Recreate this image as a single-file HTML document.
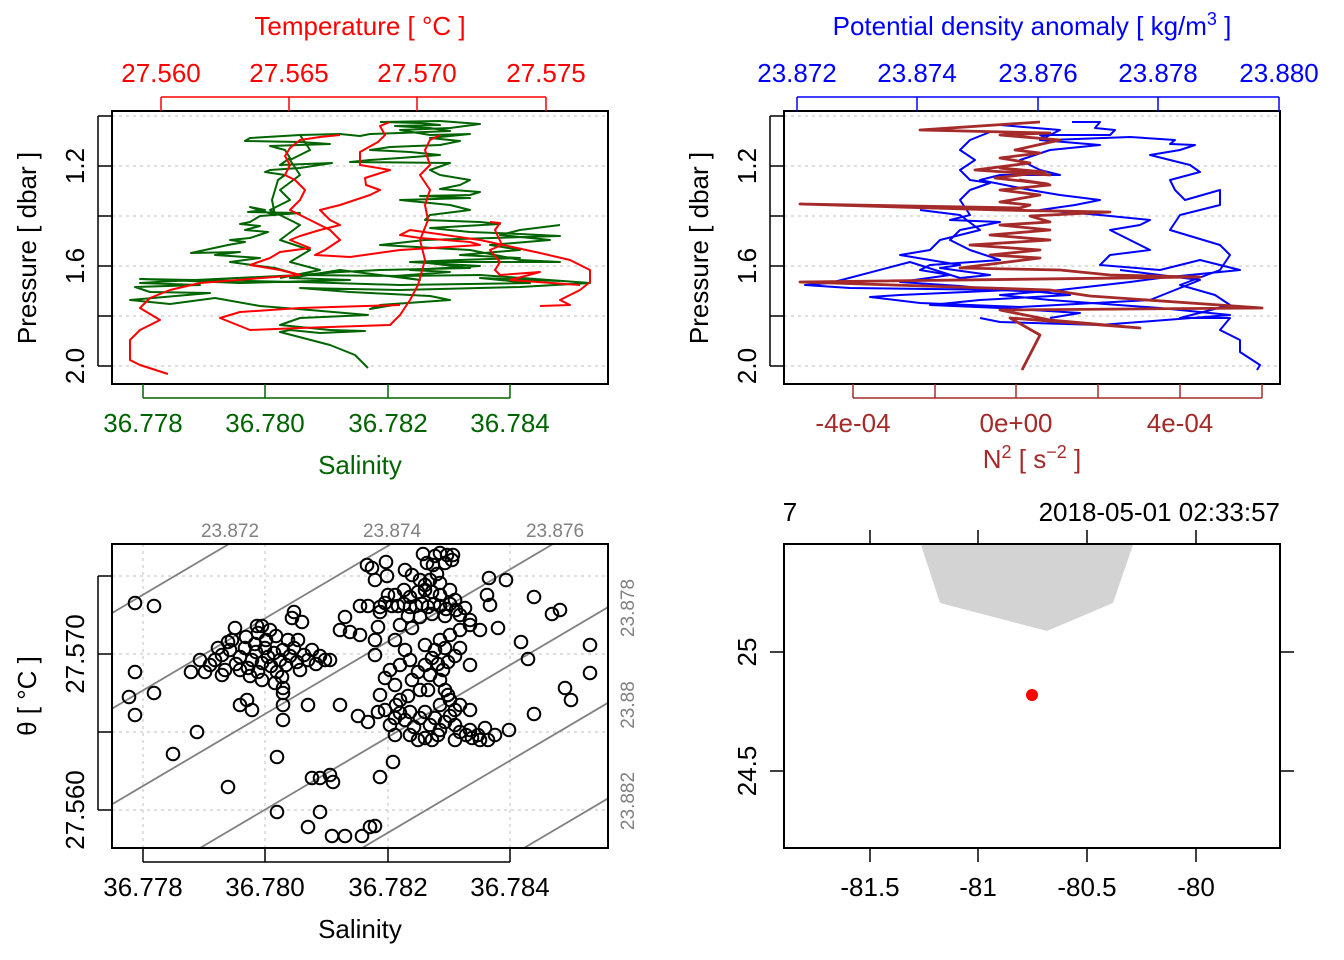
<!DOCTYPE html>
<html><head><meta charset="utf-8"><style>
body{margin:0;background:#fff}
svg{display:block;font-family:"Liberation Sans",Arial,sans-serif}
</style></head><body>
<svg width="1344" height="960" viewBox="0 0 1344 960" xmlns="http://www.w3.org/2000/svg">
<rect width="1344" height="960" fill="#fff"/>
<defs>
<clipPath id="c1"><rect x="112" y="111" width="496" height="273"/></clipPath>
<clipPath id="c2"><rect x="784" y="111" width="496" height="273"/></clipPath>
<clipPath id="c3"><rect x="112" y="544" width="496" height="304"/></clipPath>
</defs>
<g stroke="#ccc" stroke-dasharray="3,4" stroke-width="1.2">
<line x1="112" x2="608" y1="116" y2="116"/><line x1="112" x2="608" y1="166" y2="166"/><line x1="112" x2="608" y1="216" y2="216"/><line x1="112" x2="608" y1="266" y2="266"/><line x1="112" x2="608" y1="316" y2="316"/><line x1="112" x2="608" y1="366" y2="366"/>
<line x1="784" x2="1280" y1="116" y2="116"/><line x1="784" x2="1280" y1="166" y2="166"/><line x1="784" x2="1280" y1="216" y2="216"/><line x1="784" x2="1280" y1="266" y2="266"/><line x1="784" x2="1280" y1="316" y2="316"/><line x1="784" x2="1280" y1="366" y2="366"/>
<line x1="143" x2="143" y1="544" y2="848"/><line x1="265" x2="265" y1="544" y2="848"/><line x1="388" x2="388" y1="544" y2="848"/><line x1="510" x2="510" y1="544" y2="848"/>
<line x1="112" x2="608" y1="576" y2="576"/><line x1="112" x2="608" y1="654" y2="654"/><line x1="112" x2="608" y1="732" y2="732"/><line x1="112" x2="608" y1="810" y2="810"/>
</g>
<g clip-path="url(#c1)" fill="none" stroke-width="2" stroke-linejoin="round">
<polyline stroke="#006400" points="380,122 420,123 440,125 395,126 430,128 450,131 400,133 370,134 360,136 340,134 300,135 250,138 245,141 300,142 330,144 270,146 285,150 290,158 280,165 332,163 300,168 270,170 265,172 285,175 278,180 275,190 272,200 275,215 250,207 265,210 248,212 300,213 260,216 250,222 240,224 260,226 245,230 268,232 250,238 230,240 245,242 228,245 191,253 240,252 215,255 260,258 230,262 275,268 300,275 175,281 140,283 200,285 135,287 150,292 210,293 130,300 170,304 215,298 260,306 310,310 368,315 300,318 280,325 330,330 365,331 320,333 290,330 280,332 330,345 355,355 362,362 368,368"/>
<polyline stroke="#006400" points="380,122 440,121 480,124 450,128 400,130 430,135 470,134 430,138 460,141 440,145 390,147 370,150 410,152 440,155 400,158 370,160 350,162 450,163 430,170 440,175 470,180 460,185 440,189 480,192 470,195 420,196 470,198 400,200 450,205 470,210 430,215 425,220 480,222 500,224 430,228 470,232 520,234 560,236 425,240 380,245 470,250 520,260 560,262 420,262 470,268 380,270 340,272 300,275 400,276 480,275 590,283 520,287 400,290 300,288 350,292 430,296 450,300 380,305 370,309 400,304"/>
<polyline stroke="#006400" points="560,225 520,230 500,235 550,240 490,245 520,250 460,255 520,258 460,260 410,262 480,266 410,270 450,272 395,276 420,280 340,270 290,278 350,280 240,283 140,279 300,282 400,285 530,283 480,278 560,281"/>
<polyline stroke="#006400" points="300,135 310,150 290,160 300,175 280,190 290,200 270,210 300,225 280,240 310,250 290,262 320,270 280,278"/>
<polyline stroke="#f00" points="390,122 380,126 385,135 378,142 360,152 360,165 390,170 365,178 366,185 380,190 370,195 355,200 340,205 320,210 330,220 340,225 320,230 300,236 290,240 310,248 280,252 270,258 250,265 280,270 300,275 200,283 170,290 150,298 140,308 160,320 140,330 130,340 130,360 140,365 168,374"/>
<polyline stroke="#f00" points="340,135 320,137 300,140 290,148 285,156 290,165 285,175 295,180 305,190 300,200 290,210 310,220 330,230 340,240 325,250 315,255 350,257 400,250 480,245 470,242 420,238 400,235 410,230 480,240 540,253 570,260 590,270 590,282 580,290 560,300 570,305 540,306"/>
<polyline stroke="#f00" points="440,135 430,140 425,150 430,165 420,175 430,190 425,205 428,220 420,240 425,260 418,285 410,300 400,315 390,325 300,328 250,330 220,318 240,312 300,308 400,305"/>
<polyline stroke="#f00" points="490,222 500,223 495,230 502,245 490,250 500,262 495,270 500,275 540,272 510,280 580,285"/>
</g>
<g clip-path="url(#c2)" fill="none" stroke-width="2" stroke-linejoin="round">
<polyline stroke="#00f" points="1072,122 1100,122 1095,128 1115,130 1110,135 1040,135 1050,140 1130,137 1175,140 1170,144 1195,145 1180,150 1150,155 1170,160 1190,165 1200,172 1170,180 1175,190 1185,200 1220,190 1220,205 1180,215 1170,230 1220,245 1230,255 1220,270 1180,285 1215,295 1230,305 1180,318 1230,318 1220,330 1240,340 1240,352 1260,365 1257,370"/>
<polyline stroke="#00f" points="1000,125 1060,130 1040,140 1100,145 1050,150 1020,160 1040,170 1060,175 1000,175 980,180 1030,190 1060,195 1100,200 1075,205 1040,210 1100,215 1150,220 1140,225 1110,230 1130,240 1150,250 1110,255 1100,265 1160,270 1200,260 1240,270 1160,278 1130,282 1060,290 1000,295 1050,300 1160,308 1230,315 1100,325 1000,322 980,318"/>
<polyline stroke="#00f" points="990,132 970,140 960,150 975,160 960,170 970,180 990,183 970,190 960,200 970,215 950,220 1000,222 960,230 950,240 970,250 1000,260 930,265 920,270 950,275 900,282 960,286 1000,290 1040,292 1070,295 980,300 930,305 1000,308 1080,313 1050,318"/>
<polyline stroke="#00f" points="920,210 960,215 980,230 940,240 930,250 900,255 960,265 940,268 990,275 960,278 910,262 830,283 805,285 850,288 1010,290 900,295 870,297 920,303 1020,307 1150,300 1200,280 1120,270"/>
<polyline stroke="#a52a2a" stroke-width="2.8" points="1040,122 920,130 1050,133 1000,135 1060,140 1015,150 1040,153 1000,158 1030,163 975,170 1050,175 1000,168 1045,172 995,178 1048,184 1020,180 1050,185 1000,190 1040,195 1000,202 1030,205 1020,208 800,204 1000,210 1110,212 1030,216 1050,222 1000,225 1050,230 990,235 1050,240 970,245 1040,250 990,255 1040,258 960,268 1060,270 1110,275 1200,277 800,282 1050,290 1090,296 1262,308 1000,310 1050,320 1140,328 1010,318 1040,335 1022,370"/>
</g>
<g clip-path="url(#c3)" stroke="#808080" stroke-width="1.8">
<line x1="-448" y1="848" x2="67" y2="544"/><line x1="-286" y1="848" x2="229" y2="544"/><line x1="-124" y1="848" x2="391" y2="544"/><line x1="38" y1="848" x2="553" y2="544"/><line x1="200" y1="848" x2="715" y2="544"/><line x1="362" y1="848" x2="877" y2="544"/><line x1="524" y1="848" x2="1039" y2="544"/>
</g>
<g fill="none" stroke="#000" stroke-width="2" clip-path="url(#c3)">
<circle r="6.3" cx="215" cy="660"/><circle r="6.3" cx="222" cy="655"/><circle r="6.3" cx="230" cy="650"/><circle r="6.3" cx="236" cy="664"/><circle r="6.3" cx="240" cy="657"/><circle r="6.3" cx="245" cy="648"/><circle r="6.3" cx="248" cy="668"/><circle r="6.3" cx="252" cy="660"/><circle r="6.3" cx="256" cy="652"/><circle r="6.3" cx="258" cy="672"/><circle r="6.3" cx="262" cy="663"/><circle r="6.3" cx="265" cy="648"/><circle r="6.3" cx="268" cy="657"/><circle r="6.3" cx="271" cy="666"/><circle r="6.3" cx="274" cy="653"/><circle r="6.3" cx="277" cy="672"/><circle r="6.3" cx="280" cy="660"/><circle r="6.3" cx="283" cy="650"/><circle r="6.3" cx="286" cy="665"/><circle r="6.3" cx="290" cy="656"/><circle r="6.3" cx="294" cy="648"/><circle r="6.3" cx="297" cy="662"/><circle r="6.3" cx="300" cy="670"/><circle r="6.3" cx="304" cy="655"/><circle r="6.3" cx="308" cy="660"/><circle r="6.3" cx="312" cy="650"/><circle r="6.3" cx="316" cy="664"/><circle r="6.3" cx="320" cy="656"/><circle r="6.3" cx="325" cy="660"/><circle r="6.3" cx="240" cy="670"/><circle r="6.3" cx="250" cy="676"/><circle r="6.3" cx="262" cy="680"/><circle r="6.3" cx="275" cy="683"/><circle r="6.3" cx="283" cy="688"/><circle r="6.3" cx="282" cy="677"/><circle r="6.3" cx="255" cy="644"/><circle r="6.3" cx="266" cy="640"/><circle r="6.3" cx="276" cy="636"/><circle r="6.3" cx="288" cy="640"/><circle r="6.3" cx="298" cy="640"/><circle r="6.3" cx="232" cy="640"/><circle r="6.3" cx="225" cy="670"/><circle r="6.3" cx="210" cy="665"/><circle r="6.3" cx="218" cy="648"/><circle r="6.3" cx="246" cy="637"/><circle r="6.3" cx="258" cy="633"/><circle r="6.3" cx="270" cy="630"/><circle r="6.3" cx="294" cy="612"/><circle r="6.3" cx="292" cy="618"/><circle r="6.3" cx="262" cy="626"/><circle r="6.3" cx="235" cy="628"/><circle r="6.3" cx="200" cy="660"/><circle r="6.3" cx="205" cy="672"/><circle r="6.3" cx="222" cy="675"/>
<circle r="6.3" cx="380" cy="607"/><circle r="6.3" cx="385" cy="603"/><circle r="6.3" cx="392" cy="606"/><circle r="6.3" cx="398" cy="606"/><circle r="6.3" cx="404" cy="604"/><circle r="6.3" cx="410" cy="607"/><circle r="6.3" cx="416" cy="606"/><circle r="6.3" cx="422" cy="604"/><circle r="6.3" cx="428" cy="607"/><circle r="6.3" cx="434" cy="604"/><circle r="6.3" cx="440" cy="606"/><circle r="6.3" cx="446" cy="609"/><circle r="6.3" cx="450" cy="604"/><circle r="6.3" cx="456" cy="610"/><circle r="6.3" cx="410" cy="597"/><circle r="6.3" cx="418" cy="592"/><circle r="6.3" cx="425" cy="590"/><circle r="6.3" cx="432" cy="592"/><circle r="6.3" cx="440" cy="595"/><circle r="6.3" cx="404" cy="590"/><circle r="6.3" cx="395" cy="595"/><circle r="6.3" cx="388" cy="595"/><circle r="6.3" cx="380" cy="612"/><circle r="6.3" cx="408" cy="616"/><circle r="6.3" cx="420" cy="617"/><circle r="6.3" cx="432" cy="614"/><circle r="6.3" cx="445" cy="616"/><circle r="6.3" cx="460" cy="615"/><circle r="6.3" cx="470" cy="620"/><circle r="6.3" cx="450" cy="590"/><circle r="6.3" cx="455" cy="600"/><circle r="6.3" cx="465" cy="608"/><circle r="6.3" cx="400" cy="625"/><circle r="6.3" cx="412" cy="628"/><circle r="6.3" cx="420" cy="580"/><circle r="6.3" cx="430" cy="580"/><circle r="6.3" cx="440" cy="583"/><circle r="6.3" cx="425" cy="585"/><circle r="6.3" cx="437" cy="574"/><circle r="6.3" cx="405" cy="570"/><circle r="6.3" cx="412" cy="575"/><circle r="6.3" cx="470" cy="625"/><circle r="6.3" cx="480" cy="630"/><circle r="6.3" cx="490" cy="605"/><circle r="6.3" cx="487" cy="595"/>
<circle r="6.3" cx="423" cy="554"/><circle r="6.3" cx="435" cy="556"/><circle r="6.3" cx="440" cy="553"/><circle r="6.3" cx="447" cy="555"/><circle r="6.3" cx="453" cy="555"/><circle r="6.3" cx="427" cy="563"/><circle r="6.3" cx="433" cy="565"/><circle r="6.3" cx="445" cy="563"/><circle r="6.3" cx="452" cy="560"/><circle r="6.3" cx="372" cy="568"/><circle r="6.3" cx="375" cy="580"/><circle r="6.3" cx="360" cy="606"/><circle r="6.3" cx="368" cy="606"/>
<circle r="6.3" cx="395" cy="640"/><circle r="6.3" cx="405" cy="650"/><circle r="6.3" cx="410" cy="660"/><circle r="6.3" cx="400" cy="665"/><circle r="6.3" cx="390" cy="670"/><circle r="6.3" cx="395" cy="685"/><circle r="6.3" cx="412" cy="680"/><circle r="6.3" cx="418" cy="672"/><circle r="6.3" cx="425" cy="665"/><circle r="6.3" cx="432" cy="658"/><circle r="6.3" cx="438" cy="664"/><circle r="6.3" cx="443" cy="670"/><circle r="6.3" cx="448" cy="662"/><circle r="6.3" cx="455" cy="656"/><circle r="6.3" cx="460" cy="648"/><circle r="6.3" cx="430" cy="675"/><circle r="6.3" cx="440" cy="680"/><circle r="6.3" cx="420" cy="690"/><circle r="6.3" cx="428" cy="690"/><circle r="6.3" cx="435" cy="650"/><circle r="6.3" cx="445" cy="648"/><circle r="6.3" cx="425" cy="645"/><circle r="6.3" cx="440" cy="640"/><circle r="6.3" cx="450" cy="635"/><circle r="6.3" cx="460" cy="630"/><circle r="6.3" cx="470" cy="665"/><circle r="6.3" cx="445" cy="690"/><circle r="6.3" cx="400" cy="700"/><circle r="6.3" cx="408" cy="696"/><circle r="6.3" cx="385" cy="678"/><circle r="6.3" cx="380" cy="695"/><circle r="6.3" cx="385" cy="710"/><circle r="6.3" cx="378" cy="712"/><circle r="6.3" cx="396" cy="705"/><circle r="6.3" cx="375" cy="655"/><circle r="6.3" cx="375" cy="640"/><circle r="6.3" cx="378" cy="627"/><circle r="6.3" cx="350" cy="632"/><circle r="6.3" cx="340" cy="630"/><circle r="6.3" cx="360" cy="635"/><circle r="6.3" cx="330" cy="660"/>
<circle r="6.3" cx="395" cy="718"/><circle r="6.3" cx="400" cy="713"/><circle r="6.3" cx="405" cy="720"/><circle r="6.3" cx="410" cy="712"/><circle r="6.3" cx="414" cy="727"/><circle r="6.3" cx="420" cy="718"/><circle r="6.3" cx="425" cy="712"/><circle r="6.3" cx="430" cy="725"/><circle r="6.3" cx="435" cy="718"/><circle r="6.3" cx="440" cy="730"/><circle r="6.3" cx="445" cy="722"/><circle r="6.3" cx="450" cy="716"/><circle r="6.3" cx="455" cy="725"/><circle r="6.3" cx="460" cy="732"/><circle r="6.3" cx="466" cy="735"/><circle r="6.3" cx="472" cy="738"/><circle r="6.3" cx="480" cy="740"/><circle r="6.3" cx="488" cy="740"/><circle r="6.3" cx="495" cy="735"/><circle r="6.3" cx="410" cy="735"/><circle r="6.3" cx="418" cy="740"/><circle r="6.3" cx="425" cy="738"/><circle r="6.3" cx="432" cy="740"/><circle r="6.3" cx="438" cy="735"/><circle r="6.3" cx="390" cy="725"/><circle r="6.3" cx="395" cy="735"/><circle r="6.3" cx="455" cy="740"/><circle r="6.3" cx="478" cy="735"/><circle r="6.3" cx="470" cy="730"/><circle r="6.3" cx="485" cy="728"/><circle r="6.3" cx="450" cy="700"/><circle r="6.3" cx="460" cy="705"/><circle r="6.3" cx="470" cy="710"/><circle r="6.3" cx="455" cy="710"/><circle r="6.3" cx="440" cy="705"/><circle r="6.3" cx="448" cy="695"/><circle r="6.3" cx="358" cy="716"/><circle r="6.3" cx="368" cy="722"/><circle r="6.3" cx="509" cy="730"/>
<circle r="6.3" cx="135" cy="603"/><circle r="6.3" cx="154" cy="606"/><circle r="6.3" cx="135" cy="672"/><circle r="6.3" cx="129" cy="697"/><circle r="6.3" cx="154" cy="693"/><circle r="6.3" cx="135" cy="715"/><circle r="6.3" cx="191" cy="672"/><circle r="6.3" cx="197" cy="732"/><circle r="6.3" cx="173" cy="754"/><circle r="6.3" cx="228" cy="787"/><circle r="6.3" cx="277" cy="757"/><circle r="6.3" cx="277" cy="812"/><circle r="6.3" cx="340" cy="705"/><circle r="6.3" cx="308" cy="705"/><circle r="6.3" cx="312" cy="778"/><circle r="6.3" cx="320" cy="812"/><circle r="6.3" cx="308" cy="827"/><circle r="6.3" cx="332" cy="836"/><circle r="6.3" cx="345" cy="836"/><circle r="6.3" cx="362" cy="836"/><circle r="6.3" cx="370" cy="827"/><circle r="6.3" cx="375" cy="826"/><circle r="6.3" cx="320" cy="778"/><circle r="6.3" cx="330" cy="775"/><circle r="6.3" cx="333" cy="782"/><circle r="6.3" cx="240" cy="705"/><circle r="6.3" cx="247" cy="700"/><circle r="6.3" cx="252" cy="710"/><circle r="6.3" cx="283" cy="705"/><circle r="6.3" cx="283" cy="720"/><circle r="6.3" cx="283" cy="693"/><circle r="6.3" cx="228" cy="642"/><circle r="6.3" cx="257" cy="626"/><circle r="6.3" cx="367" cy="565"/><circle r="6.3" cx="386" cy="562"/><circle r="6.3" cx="387" cy="576"/><circle r="6.3" cx="380" cy="777"/><circle r="6.3" cx="393" cy="762"/><circle r="6.3" cx="534" cy="597"/><circle r="6.3" cx="552" cy="614"/><circle r="6.3" cx="560" cy="610"/><circle r="6.3" cx="590" cy="645"/><circle r="6.3" cx="590" cy="673"/><circle r="6.3" cx="565" cy="688"/><circle r="6.3" cx="571" cy="700"/><circle r="6.3" cx="534" cy="714"/><circle r="6.3" cx="528" cy="659"/><circle r="6.3" cx="521" cy="642"/><circle r="6.3" cx="498" cy="628"/><circle r="6.3" cx="489" cy="578"/><circle r="6.3" cx="506" cy="580"/><circle r="6.3" cx="302" cy="622"/><circle r="6.3" cx="345" cy="617"/>
</g>
<g fill="none" stroke="#000" stroke-width="2">
<rect x="112" y="111" width="496" height="273"/>
<rect x="784" y="111" width="496" height="273"/>
<rect x="112" y="544" width="496" height="304"/>
<rect x="784" y="544" width="496" height="304"/>
</g>
<g stroke="#f00" stroke-width="1.5"><line x1="161" x2="546" y1="97" y2="97"/>
<line x1="161" x2="161" y1="97" y2="111"/><line x1="289" x2="289" y1="97" y2="111"/><line x1="417" x2="417" y1="97" y2="111"/><line x1="546" x2="546" y1="97" y2="111"/></g>
<g fill="#f00" font-size="26" text-anchor="middle"><text x="161" y="82">27.560</text><text x="289" y="82">27.565</text><text x="417" y="82">27.570</text><text x="546" y="82">27.575</text>
<text x="360" y="35">Temperature [ °C ]</text></g>
<g stroke="#006400" stroke-width="1.5"><line x1="143" x2="510" y1="398" y2="398"/>
<line x1="143" x2="143" y1="384" y2="398"/><line x1="265" x2="265" y1="384" y2="398"/><line x1="388" x2="388" y1="384" y2="398"/><line x1="510" x2="510" y1="384" y2="398"/></g>
<g fill="#006400" font-size="26" text-anchor="middle"><text x="143" y="432">36.778</text><text x="265" y="432">36.780</text><text x="388" y="432">36.782</text><text x="510" y="432">36.784</text>
<text x="360" y="474">Salinity</text></g>
<g stroke="#000" stroke-width="1.5"><line x1="98" x2="98" y1="116" y2="366"/>
<line x1="98" x2="112" y1="116" y2="116"/><line x1="98" x2="112" y1="166" y2="166"/><line x1="98" x2="112" y1="216" y2="216"/><line x1="98" x2="112" y1="266" y2="266"/><line x1="98" x2="112" y1="316" y2="316"/><line x1="98" x2="112" y1="366" y2="366"/>
<line x1="770" x2="770" y1="116" y2="366"/>
<line x1="770" x2="784" y1="116" y2="116"/><line x1="770" x2="784" y1="166" y2="166"/><line x1="770" x2="784" y1="216" y2="216"/><line x1="770" x2="784" y1="266" y2="266"/><line x1="770" x2="784" y1="316" y2="316"/><line x1="770" x2="784" y1="366" y2="366"/></g>
<g font-size="26" text-anchor="middle" fill="#000">
<text transform="translate(84,166) rotate(-90)">1.2</text><text transform="translate(84,266) rotate(-90)">1.6</text><text transform="translate(84,366) rotate(-90)">2.0</text>
<text transform="translate(36,248) rotate(-90)">Pressure [ dbar ]</text>
<text transform="translate(756,166) rotate(-90)">1.2</text><text transform="translate(756,266) rotate(-90)">1.6</text><text transform="translate(756,366) rotate(-90)">2.0</text>
<text transform="translate(708,248) rotate(-90)">Pressure [ dbar ]</text>
</g>
<g stroke="#00f" stroke-width="1.5"><line x1="797" x2="1279" y1="97" y2="97"/>
<line x1="797" x2="797" y1="97" y2="111"/><line x1="917" x2="917" y1="97" y2="111"/><line x1="1038" x2="1038" y1="97" y2="111"/><line x1="1158" x2="1158" y1="97" y2="111"/><line x1="1279" x2="1279" y1="97" y2="111"/></g>
<g fill="#00f" font-size="26" text-anchor="middle"><text x="797" y="82">23.872</text><text x="917" y="82">23.874</text><text x="1038" y="82">23.876</text><text x="1158" y="82">23.878</text><text x="1279" y="82">23.880</text>
<text x="1032" y="35">Potential density anomaly [ kg/m<tspan font-size="18" dy="-10">3</tspan><tspan dy="10"> ]</tspan></text></g>
<g stroke="#a52a2a" stroke-width="1.5"><line x1="853" x2="1262" y1="398" y2="398"/>
<line x1="853" x2="853" y1="384" y2="398"/><line x1="935" x2="935" y1="384" y2="398"/><line x1="1016" x2="1016" y1="384" y2="398"/><line x1="1098" x2="1098" y1="384" y2="398"/><line x1="1180" x2="1180" y1="384" y2="398"/><line x1="1262" x2="1262" y1="384" y2="398"/></g>
<g fill="#a52a2a" font-size="26" text-anchor="middle"><text x="853" y="432">-4e-04</text><text x="1016" y="432">0e+00</text><text x="1180" y="432">4e-04</text>
<text x="1032" y="468">N<tspan font-size="18" dy="-10">2</tspan><tspan dy="10"> [ s</tspan><tspan font-size="18" dy="-10">−2</tspan><tspan dy="10"> ]</tspan></text></g>
<g stroke="#000" stroke-width="1.5">
<line x1="143" x2="510" y1="862" y2="862"/><line x1="143" x2="143" y1="848" y2="862"/><line x1="265" x2="265" y1="848" y2="862"/><line x1="388" x2="388" y1="848" y2="862"/><line x1="510" x2="510" y1="848" y2="862"/>
<line x1="98" x2="98" y1="576" y2="810"/><line x1="98" x2="112" y1="576" y2="576"/><line x1="98" x2="112" y1="654" y2="654"/><line x1="98" x2="112" y1="732" y2="732"/><line x1="98" x2="112" y1="810" y2="810"/>
</g>
<g font-size="26" text-anchor="middle" fill="#000">
<text x="143" y="896">36.778</text><text x="265" y="896">36.780</text><text x="388" y="896">36.782</text><text x="510" y="896">36.784</text>
<text x="360" y="938">Salinity</text>
<text transform="translate(84,654) rotate(-90)">27.570</text><text transform="translate(84,810) rotate(-90)">27.560</text>
<text transform="translate(36,696) rotate(-90)">θ [ °C ]</text>
</g>
<g font-size="19" fill="#808080" text-anchor="middle">
<text x="230" y="537">23.872</text><text x="392" y="537">23.874</text><text x="555" y="537">23.876</text>
<text transform="translate(634,608) rotate(-90)">23.878</text><text transform="translate(634,705) rotate(-90)">23.88</text><text transform="translate(634,801) rotate(-90)">23.882</text>
</g>
<polygon points="921,545 940,603 1047,631 1113,603 1133,545" fill="#d3d3d3"/>
<circle cx="1032" cy="695" r="6" fill="#f00"/>
<g stroke="#000" stroke-width="1.5">
<line x1="870" x2="870" y1="848" y2="862"/><line x1="978" x2="978" y1="848" y2="862"/><line x1="1087" x2="1087" y1="848" y2="862"/><line x1="1196" x2="1196" y1="848" y2="862"/>
<line x1="870" x2="870" y1="530" y2="544"/><line x1="978" x2="978" y1="530" y2="544"/><line x1="1087" x2="1087" y1="530" y2="544"/><line x1="1196" x2="1196" y1="530" y2="544"/>
<line x1="770" x2="784" y1="652" y2="652"/><line x1="770" x2="784" y1="771" y2="771"/>
<line x1="1280" x2="1294" y1="652" y2="652"/><line x1="1280" x2="1294" y1="771" y2="771"/>
</g>
<g font-size="26" text-anchor="middle" fill="#000">
<text x="870" y="896">-81.5</text><text x="978" y="896">-81</text><text x="1087" y="896">-80.5</text><text x="1196" y="896">-80</text>
<text transform="translate(756,652) rotate(-90)">25</text><text transform="translate(756,771) rotate(-90)">24.5</text>
<text x="790" y="521">7</text><text x="1280" y="521" text-anchor="end">2018-05-01 02:33:57</text>
</g>
</svg>
</body></html>
